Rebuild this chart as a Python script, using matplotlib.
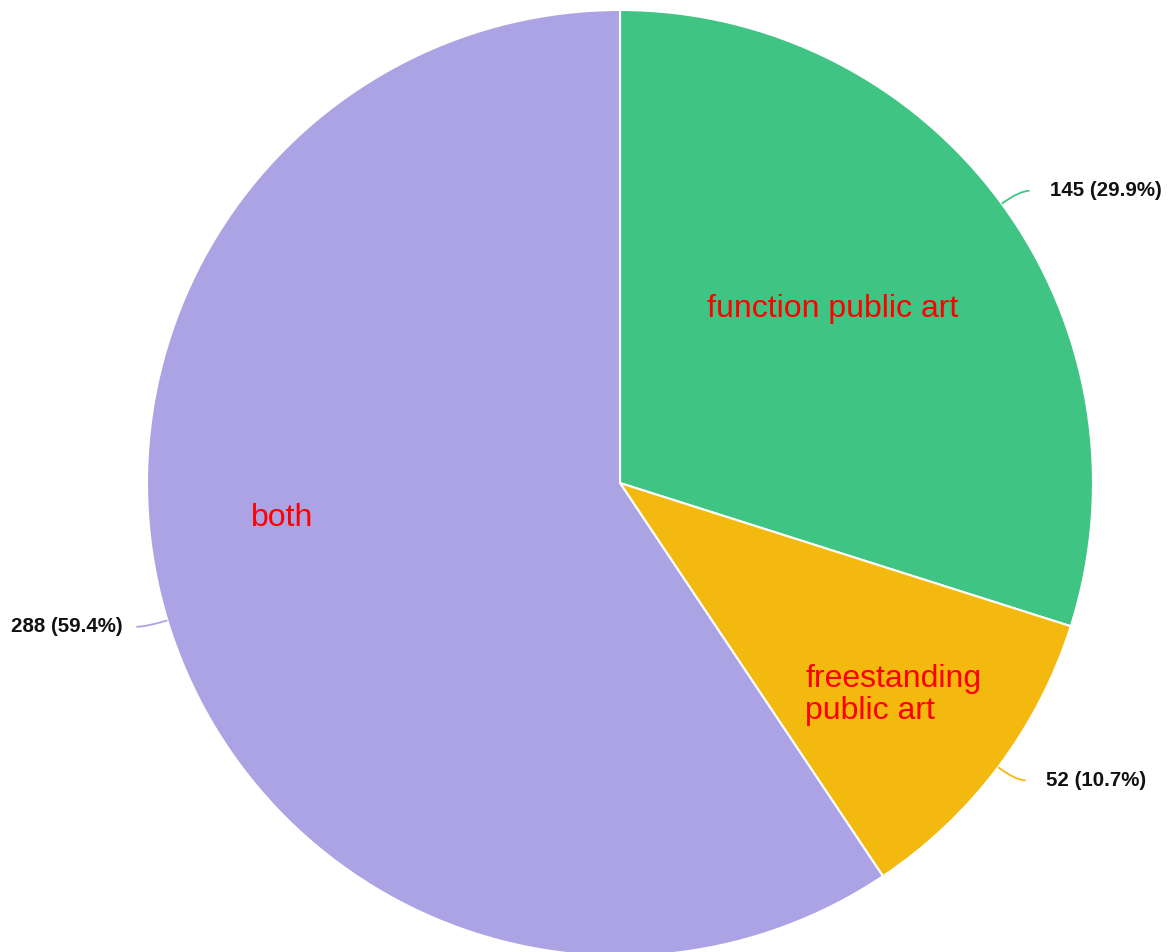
import matplotlib.pyplot as plt
import numpy as np
from matplotlib.path import Path
from matplotlib.patches import PathPatch

plt.rcParams['font.family'] = ['Liberation Sans', 'DejaVu Sans']

# Data
categories = ["function public art", "freestanding\npublic art", "both"]
values = [145, 52, 288]
colors = ["#40C484", "#F3B90E", "#ACA3E5"]

# Layout in pixel coordinates (figure is 1170 x 952, y measured from top)
W, H = 1170, 952
cx, cy = 620, 483
radius = 473
inner_label_pos = [(707, 309), (805, 695), (251, 518)]


def fy(y):
    # convert top-down pixel y to axes y
    return H - y


fig = plt.figure(figsize=(W / 100, H / 100), dpi=100)
ax = fig.add_axes([0, 0, 1, 1])

wedges, _ = ax.pie(
    values, colors=colors, startangle=90, counterclock=False,
    center=(cx, fy(cy)), radius=radius,
    wedgeprops=dict(edgecolor="white", linewidth=1.5),
)

total = sum(values)
for i, w in enumerate(wedges):
    mid = np.deg2rad((w.theta1 + w.theta2) / 2)
    dx, dy = np.cos(mid), np.sin(mid)
    p0 = (cx + radius * dx, fy(cy) + radius * dy)
    p1 = (cx + (radius + 22) * dx, fy(cy) + (radius + 22) * dy)
    side = 1 if dx >= 0 else -1
    p2 = (p1[0] + 10 * side, p1[1])
    path = Path([p0, p1, p2], [Path.MOVETO, Path.CURVE3, Path.CURVE3])
    ax.add_patch(PathPatch(path, facecolor="none", edgecolor=colors[i], lw=1.3))
    pct = values[i] / total * 100
    gap = 20 if side > 0 else 14
    ax.text(p2[0] + gap * side, p2[1], f"{values[i]} ({pct:.1f}%)",
            ha="left" if side > 0 else "right", va="center",
            fontsize=14.8, fontweight="bold", color="#111111")

    lx, ly = inner_label_pos[i]
    ax.text(lx, fy(ly), categories[i], ha="left", va="center",
            fontsize=23, color="red", linespacing=1.05)

ax.set_xlim(0, W)
ax.set_ylim(0, H)
ax.set_aspect("equal")
ax.axis("off")

fig.savefig("out.png", dpi=100)
plt.close(fig)
